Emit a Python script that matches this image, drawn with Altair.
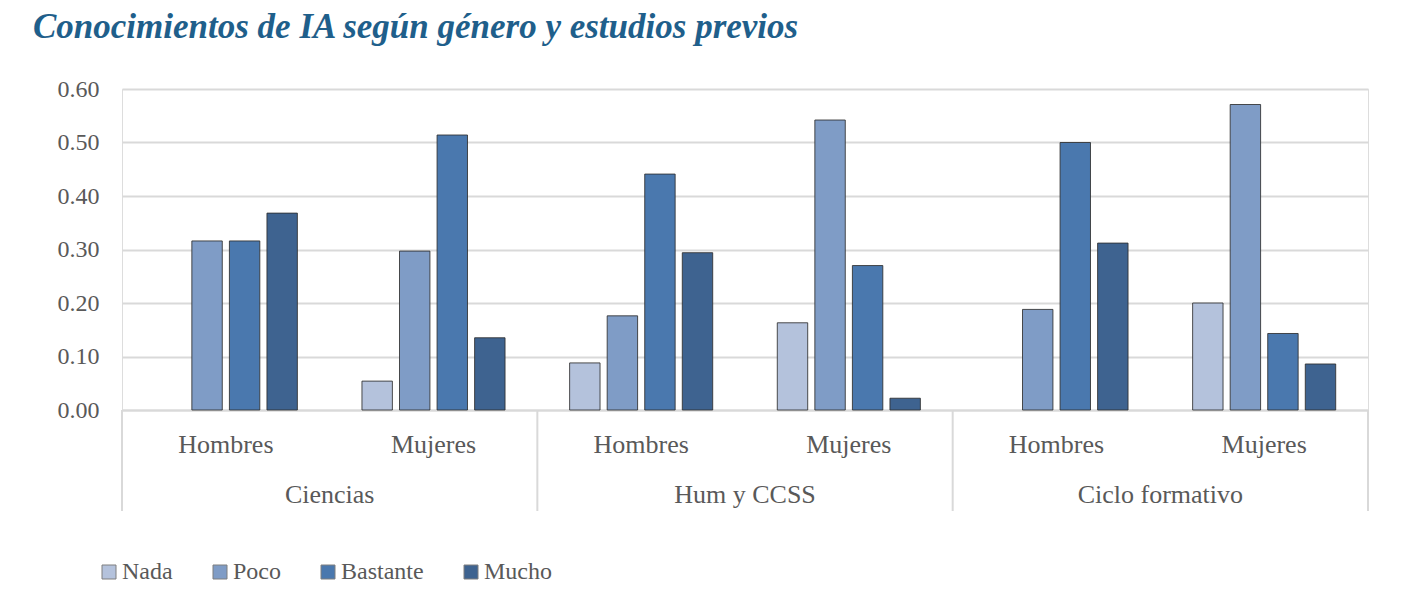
import altair as alt
import pandas as pd

# --- data ---
estudios = ["Ciencias", "Hum y CCSS", "Ciclo formativo"]
generos = ["Hombres", "Mujeres"]
niveles = ["Nada", "Poco", "Bastante", "Mucho"]
# order: Ciencias-H, Ciencias-M, Hum-H, Hum-M, Ciclo-H, Ciclo-M
nada = [0.000, 0.054, 0.088, 0.163, 0.000, 0.200]
poco = [0.316, 0.297, 0.176, 0.542, 0.188, 0.571]
bastante = [0.316, 0.514, 0.441, 0.270, 0.500, 0.143]
mucho = [0.368, 0.135, 0.294, 0.022, 0.312, 0.086]
colores = ["#b4c2dc", "#7f9cc6", "#4a78ae", "#3e6390"]

keys = [f"{e}|{g}" for e in estudios for g in generos]
series = {"Nada": nada, "Poco": poco, "Bastante": bastante, "Mucho": mucho}
rows = []
for i, k in enumerate(keys):
    for n in niveles:
        rows.append({"key": k, "nivel": n, "valor": series[n][i]})
df = pd.DataFrame(rows)

FONT = "Liberation Serif"
GRAY = "#595959"
LINE = "#d9d9d9"
W, H = 1246, 321

xscale = alt.Scale(domain=keys, paddingInner=0, paddingOuter=0)

bars = alt.Chart(df).transform_filter("datum.valor > 0").mark_bar(
    stroke="#2f2f2f", strokeWidth=1, strokeOpacity=0.85
).encode(
    x=alt.X("key:N", sort=keys, scale=xscale, title=None,
            axis=alt.Axis(labelExpr="split(datum.label, '|')[1]", labelAngle=0,
                          ticks=False, tickSize=0, domain=True, domainColor=LINE,
                          domainWidth=2, grid=False, labelFont=FONT, labelFontSize=26,
                          labelColor=GRAY, labelPadding=21)),
    xOffset=alt.XOffset("nivel:N", sort=niveles,
                        scale=alt.Scale(domain=niveles, paddingInner=0.19, paddingOuter=0.86)),
    y=alt.Y("valor:Q", title=None,
            scale=alt.Scale(domain=[0, 0.6], nice=False),
            axis=alt.Axis(values=[0, 0.1, 0.2, 0.3, 0.4, 0.5, 0.6], format=".2f",
                          domain=False, ticks=False, labelPadding=23, grid=True,
                          gridColor=LINE, gridWidth=2, labelFont=FONT,
                          labelFontSize=24, labelColor=GRAY)),
    color=alt.Color("nivel:N", sort=niveles,
                    scale=alt.Scale(domain=niveles, range=colores),
                    legend=alt.Legend(title=None, orient="none", direction="horizontal",
                                      columns=4, legendX=-25, legendY=471,
                                      symbolType="square", symbolSize=196,
                                      symbolStrokeColor="#7f7f7f", symbolStrokeWidth=1,
                                      symbolOpacity=1, labelFont=FONT, labelFontSize=24,
                                      labelColor=GRAY, labelOffset=1, columnPadding=35)),
)

sep_df = pd.DataFrame({"key": [f"{e}|Hombres" for e in estudios]})
seps = alt.Chart(sep_df).mark_rule(color=LINE, strokeWidth=2).encode(
    x=alt.X("key:N", sort=keys, scale=xscale, bandPosition=0),
    y=alt.value(H), y2=alt.value(H + 101),
)
end_df = pd.DataFrame({"key": [keys[-1]]})
sep_end = alt.Chart(end_df).mark_rule(color=LINE, strokeWidth=2).encode(
    x=alt.X("key:N", sort=keys, scale=xscale, bandPosition=1),
    y=alt.value(H), y2=alt.value(H + 101),
)

grp_df = pd.DataFrame({"key": [f"{e}|Hombres" for e in estudios], "estudio": estudios})
grp = alt.Chart(grp_df).mark_text(font=FONT, fontSize=26, color=GRAY,
                                  baseline="alphabetic", align="center").encode(
    x=alt.X("key:N", sort=keys, scale=xscale, bandPosition=1),
    y=alt.value(H + 93),
    text="estudio:N",
)

chart = alt.layer(bars, seps, sep_end, grp).properties(
    width=W, height=H,
    autosize=alt.AutoSizeParams(type="none"),
    padding={"left": 114, "top": 81, "right": 28, "bottom": 180},
    title=alt.TitleParams(
        "Conocimientos de IA según género y estudios previos",
        font=FONT, fontSize=35, fontStyle="italic", fontWeight="bold",
        color="#1f5f8b", anchor="start", frame="group", dx=-89, offset=32,
    ),
).configure_view(stroke=None).configure(font=FONT)

chart.save("out.html", embed_options={"renderer": "svg", "actions": False})
